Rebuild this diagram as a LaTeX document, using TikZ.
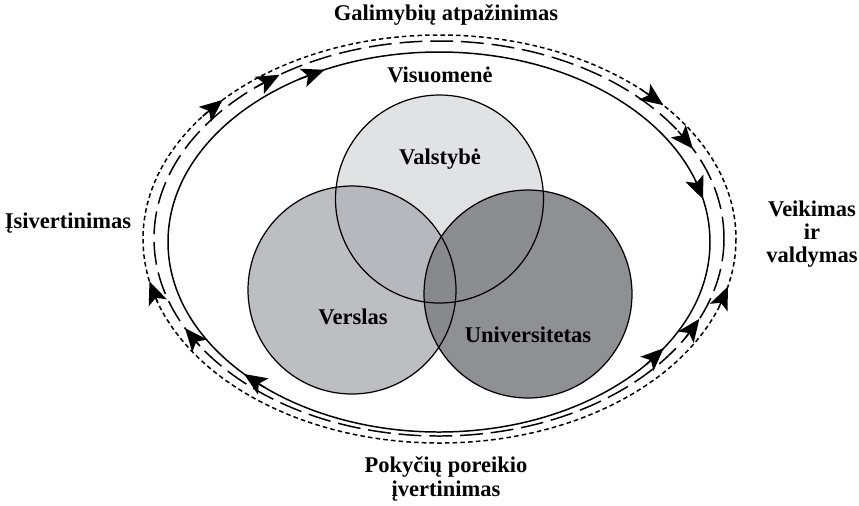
\documentclass[tikz,border=0pt]{standalone}
\usepackage{fontspec}
\setmainfont{Liberation Serif}
\usetikzlibrary{calc}
\usetikzlibrary{arrows.meta}

\definecolor{valstcol}{RGB}{225,226,228}
\definecolor{verscol}{RGB}{175,176,181}
\definecolor{univcol}{RGB}{131,132,136}

\tikzset{
    lbl/.style={font=\fontsize{12.8}{13.2}\selectfont\bfseries, align=center, inner sep=0pt},
    ring/.style={line width=0.85pt},
    tip/.style={line width=0.85pt, solid, -{Stealth[length=13pt,width=11pt,inset=3pt]}},
}

\begin{document}
\begin{tikzpicture}[x=0.02cm, y=-0.02cm]
    \useasboundingbox (0,0) rectangle (859,505);

    % three rings
    \coordinate (Cs) at (439, 242);
    \coordinate (Cd) at (439, 238.5);
    \coordinate (Co) at (439.5, 239);
    \draw[ring] (Cs) ellipse [x radius=271, y radius=190];
    \draw[ring, dash pattern=on 13pt off 4.5pt] (Cd) ellipse [x radius=285, y radius=197.5];
    \draw[ring, dash pattern=on 2.6pt off 1.8pt] (Co) ellipse [x radius=296.5, y radius=204];

    % arrow tips, angle / direction
    \foreach \t/\d in {245/1, 347/1, 34/-1, 136/1}
        \draw[tip] ($(Cs)+({271*cos(\t-6*\d)},{190*sin(\t-6*\d)})$) -- ($(Cs)+({271*cos(\t)},{190*sin(\t)})$);
    \foreach \t/\d in {236/1, 333/1, 24/-1, 153/1}
        \draw[tip] ($(Cd)+({285*cos(\t-6*\d)},{197.5*sin(\t-6*\d)})$) -- ($(Cd)+({285*cos(\t)},{197.5*sin(\t)})$);
    \foreach \t/\d in {223/1, 319/1, 13.5/-1, 168/1}
        \draw[tip] ($(Co)+({296.5*cos(\t-6*\d)},{204*sin(\t-6*\d)})$) -- ($(Co)+({296.5*cos(\t)},{204*sin(\t)})$);

    % circles
    \coordinate (V) at (439.5, 199);
    \coordinate (B) at (352, 290);
    \coordinate (U) at (528, 294);
    \fill[valstcol] (V) circle [radius=104];
    \fill[verscol, fill opacity=0.825] (B) circle [radius=104];
    \fill[univcol, fill opacity=0.9] (U) circle [radius=104];
    \draw[line width=0.7pt] (V) circle [radius=104];
    \draw[line width=0.7pt] (B) circle [radius=104];
    \draw[line width=0.7pt] (U) circle [radius=104];

    \node[lbl] (valst) at (440, 159) {Valstybė};
    \node[lbl] (versl) at (353, 317) {Verslas};
    \node[lbl] (univ) at (528, 335) {Universitetas};
    \node[lbl] (visuom) at (440, 75) {Visuomenė};

    \node[lbl] (galim) at (446, 15) {Galimybių atpažinimas};
    \node[lbl] (isiv) at (68, 223) {Įsivertinimas};
    \node[lbl] (veik) at (812, 234) {Veikimas\\ir\\valdymas};
    \node[lbl] (pokyc) at (446, 479) {Pokyčių poreikio\\įvertinimas};
\end{tikzpicture}
\end{document}
